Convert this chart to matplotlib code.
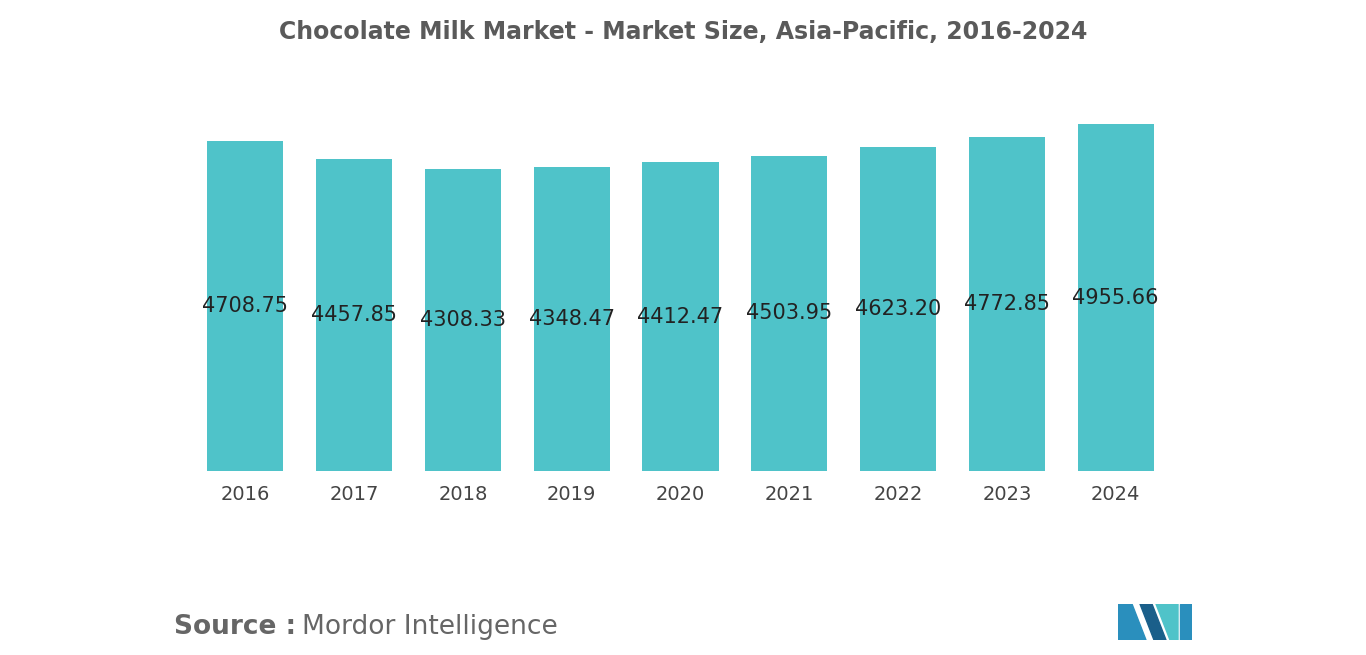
import matplotlib.pyplot as plt
from matplotlib.patches import Polygon

years = ["2016", "2017", "2018", "2019", "2020", "2021", "2022", "2023", "2024"]
values = [4708.75, 4457.85, 4308.33, 4348.47, 4412.47, 4503.95, 4623.20, 4772.85, 4955.66]

fig = plt.figure(figsize=(13.66, 6.55), dpi=100)
# axes placed in pixel terms of the reference
ax = fig.add_axes([191/1366, 1-471/655, (1170-191)/1366, (471-124)/655])
x = range(len(years))
ax.bar(x, values, width=0.7, color="#4FC3C9")
for i, v in zip(x, values):
    ax.text(i, v/2, "%.2f" % v, ha="center", va="center", fontsize=15, color="#222222")
ax.set_xlim(-0.5, len(years)-0.5)
ax.set_ylim(0, max(values))
ax.set_xticks(list(x))
ax.set_xticklabels(years, fontsize=14, color="#444444")
ax.tick_params(axis="x", length=0, pad=10)
ax.set_yticks([])
for s in ax.spines.values():
    s.set_visible(False)

fig.text(0.5, 1-32/655, "Chocolate Milk Market - Market Size, Asia-Pacific, 2016-2024",
         ha="center", va="center", fontsize=17, fontweight="bold", color="#5a5a5a")
fig.text(174/1366, 1-627/655, "Source :", ha="left", va="center", fontsize=19,
         fontweight="bold", color="#666666")
fig.text(302/1366, 1-627/655, "Mordor Intelligence", ha="left", va="center", fontsize=19,
         color="#666666")

# logo
lg = fig.add_axes([1118/1366, 1-640/655, 74/1366, 36/655])
lg.set_xlim(0, 74)
lg.set_ylim(0, 36)
lg.axis("off")
lg.add_patch(Polygon([(0, 0), (0, 36), (14, 36), (28, 0)], color="#2a8fbd"))
lg.add_patch(Polygon([(22, 36), (36, 0), (48, 0), (34, 36)], color="#1a5f8a"))
lg.add_patch(Polygon([(38, 36), (52, 0), (60, 0), (60, 36)], color="#4FC3C9"))
lg.add_patch(Polygon([(62, 0), (62, 36), (74, 36), (74, 0)], color="#2a8fbd"))

fig.savefig("out.png")
